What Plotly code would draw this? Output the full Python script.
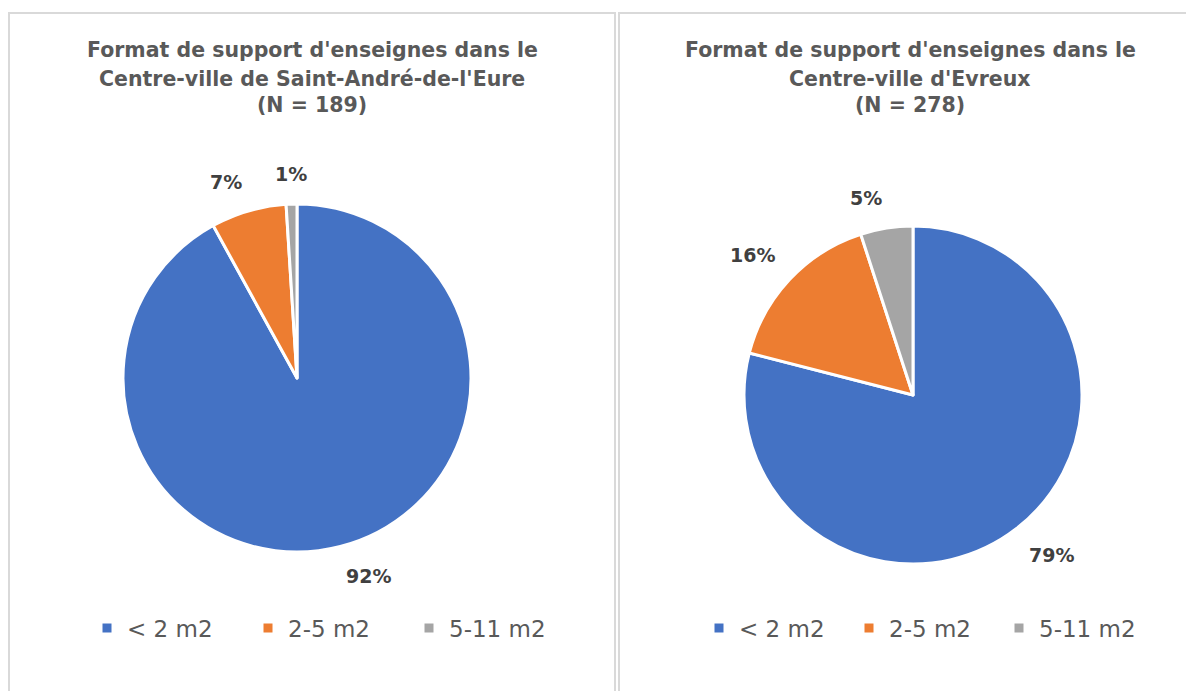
import math
import plotly.graph_objects as go

# Data
categories = ["< 2 m2", "2-5 m2", "5-11 m2"]
st_andre_pct = [92, 7, 1]
evreux_pct = [79, 16, 5]
title_lines = [
    ["Format de support d'enseignes dans le", "Centre-ville de Saint-André-de-l'Eure", "(N = 189)"],
    ["Format de support d'enseignes dans le", "Centre-ville d'Evreux", "(N = 278)"],
]
colors = ["#4472C4", "#ED7D31", "#A5A5A5"]

W, H = 1186, 691
FONT = "'DejaVu Sans', sans-serif"
TITLE_COLOR = "#595959"
LABEL_COLOR = "#404040"


def px(x):
    return x / W


def py(y):
    return 1 - y / H


# pie geometry in pixels: (center x, center y, radius)
pies = [(297, 378, 174), (913, 395, 169)]
panels = [(9, 615), (619, 1201)]

fig = go.Figure()
annotations = []

for i, (vals, (cx, cy, r)) in enumerate(zip([st_andre_pct, evreux_pct], pies)):
    # a zero-width space keeps the second pie's legend entries separate
    labels = categories if i == 0 else [c + "\u200b" for c in categories]
    fig.add_trace(go.Pie(
        labels=labels,
        values=vals,
        sort=False,
        direction="clockwise",
        rotation=0,
        marker=dict(colors=colors, line=dict(color="white", width=3)),
        textinfo="none",
        hoverinfo="label+percent",
        domain=dict(x=[px(cx - r), px(cx + r)], y=[py(cy + r), py(cy - r)]),
        legend="legend" if i == 0 else "legend2",
    ))

    # percentage labels just outside each slice
    total = sum(vals)
    cum = 0
    for v in vals:
        mid = (cum + v / 2) / total * 2 * math.pi
        cum += v
        s, c = math.sin(mid), math.cos(mid)
        R = r + 17
        x = cx + R * s
        y = cy - R * c
        xa = "center" if abs(s) < 0.15 else ("left" if s > 0 else "right")
        ya = "middle" if abs(c) < 0.15 else ("bottom" if c > 0 else "top")
        annotations.append(dict(
            x=px(x), y=py(y), xref="paper", yref="paper",
            text=f"<b>{round(v / total * 100)}%</b>", showarrow=False,
            xanchor=xa, yanchor=ya,
            font=dict(family=FONT, size=19, color=LABEL_COLOR),
        ))

# chart titles, one line at a time
line_y = [50, 79, 105]
for (x0, x1), lines in zip(panels, title_lines):
    for ly, t in zip(line_y, lines):
        annotations.append(dict(
            x=px((x0 + x1) / 2), y=py(ly), xref="paper", yref="paper",
            text=f"<b>{t}</b>", showarrow=False, xanchor="center", yanchor="middle",
            font=dict(family=FONT, size=20.5, color=TITLE_COLOR),
        ))

# panel frames
shapes = []
for x0, x1 in panels:
    shapes.append(dict(
        type="rect", xref="paper", yref="paper",
        x0=px(x0), x1=px(x1), y0=py(H + 10), y1=py(13),
        line=dict(color="#D9D9D9", width=2), fillcolor="rgba(0,0,0,0)",
    ))

legend_style = dict(
    orientation="h", xref="paper", yref="paper", yanchor="middle",
    font=dict(family=FONT, size=23, color=TITLE_COLOR),
    bgcolor="rgba(0,0,0,0)", itemclick=False, itemdoubleclick=False,
    entrywidthmode="pixels",
)

fig.update_layout(
    width=W, height=H, autosize=False,
    margin=dict(l=0, r=0, t=0, b=0),
    paper_bgcolor="white", plot_bgcolor="white",
    annotations=annotations, shapes=shapes,
    legend=dict(x=px(87), y=py(628), xanchor="left", entrywidth=116, **legend_style),
    legend2=dict(x=px(699), y=py(628), xanchor="left", entrywidth=105, **legend_style),
    showlegend=True,
)

fig.write_html("out.html")
